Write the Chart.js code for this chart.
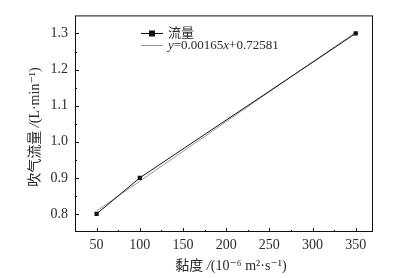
<!DOCTYPE html>
<html>
<head>
<meta charset="utf-8">
<script src="https://cdn.jsdelivr.net/npm/chart.js@4"></script>
<style>
  html, body { margin: 0; padding: 0; background: #fff; }
  #wrap { width: 407px; height: 278px; }
</style>
</head>
<body>
<div id="wrap"><canvas id="chart"></canvas></div>
<script>
// 数据
const viscosity = [50, 100, 350];
const flowRate = [0.8, 0.9, 1.3];
// 拟合直线 y=0.00165x+0.72581 的两个端点
const fitX = [50, 350];
const fitY = [0.8083, 1.3033];
const xTicks = [50, 100, 150, 200, 250, 300, 350];
const yTicks = [0.8, 0.9, 1.0, 1.1, 1.2, 1.3];
const xMinor = [75, 125, 175, 225, 275, 325];
const yMinor = [0.85, 0.95, 1.05, 1.15, 1.25];

const serif = "'Liberation Serif', 'DejaVu Serif', 'Noto Sans CJK SC', serif";
const textColor = '#2a2a2a';

// 画文字段（不同字体依次排列）
function drawRuns(ctx, runs, x, y) {
  let cx = x;
  runs.forEach(r => {
    ctx.font = r[1];
    ctx.fillText(r[0], cx, y);
    cx += ctx.measureText(r[0]).width;
  });
}
function runsWidth(ctx, runs) {
  let w = 0;
  runs.forEach(r => { ctx.font = r[1]; w += ctx.measureText(r[0]).width; });
  return w;
}

const framePlugin = {
  id: 'frame',
  afterDraw(chart) {
    const ctx = chart.ctx;
    const a = chart.chartArea;
    const xs = chart.scales.x, ys = chart.scales.y;
    ctx.save();
    ctx.strokeStyle = '#111';
    ctx.lineWidth = 1;
    ctx.strokeRect(a.left + 0.5, a.top + 0.5, a.right - a.left - 1, a.bottom - a.top - 1);

    // 刻度线（向内）
    ctx.beginPath();
    xTicks.forEach(v => {
      const px = Math.round(xs.getPixelForValue(v)) + 0.5;
      ctx.moveTo(px, a.bottom); ctx.lineTo(px, a.bottom - 4);
    });
    xMinor.forEach(v => {
      const px = Math.round(xs.getPixelForValue(v)) + 0.5;
      ctx.moveTo(px, a.bottom); ctx.lineTo(px, a.bottom - 2);
    });
    yTicks.forEach(v => {
      const py = Math.round(ys.getPixelForValue(v)) + 0.5;
      ctx.moveTo(a.left, py); ctx.lineTo(a.left + 4, py);
    });
    yMinor.forEach(v => {
      const py = Math.round(ys.getPixelForValue(v)) + 0.5;
      ctx.moveTo(a.left, py); ctx.lineTo(a.left + 2, py);
    });
    ctx.stroke();

    // 坐标轴标题
    ctx.fillStyle = textColor;
    ctx.textBaseline = 'middle';
    const f = '14px ' + serif;
    const fi = 'italic 14px ' + serif;
    const xRuns = [['黏度 ', f], ['/', fi], ['(10⁻⁶ m²·s⁻¹)', f]];
    drawRuns(ctx, xRuns, 231 - runsWidth(ctx, xRuns) / 2, 266);

    const yRuns = [['吹气流量 ', f], ['/', fi], ['(L·min⁻¹)', f]];
    ctx.translate(35, 127);
    ctx.rotate(-Math.PI / 2);
    drawRuns(ctx, yRuns, -runsWidth(ctx, yRuns) / 2, 0);
    ctx.restore();

    // 图例
    ctx.save();
    const lx0 = 141, lx1 = 163, tx = 168;
    let ly = 33.5;
    ctx.strokeStyle = '#111';
    ctx.beginPath(); ctx.moveTo(lx0, ly); ctx.lineTo(lx1, ly); ctx.stroke();
    ctx.fillStyle = '#111';
    ctx.fillRect(149, ly - 3, 6, 6);
    ctx.fillStyle = textColor;
    ctx.textBaseline = 'middle';
    drawRuns(ctx, [['流量', '13px ' + serif]], tx, ly);
    ly = 45.5;
    ctx.strokeStyle = '#999';
    ctx.beginPath(); ctx.moveTo(lx0, ly); ctx.lineTo(lx1, ly); ctx.stroke();
    const n = '13px ' + serif, ni = 'italic 13px ' + serif;
    drawRuns(ctx, [['y', ni], ['=0.00165', n], ['x', ni], ['+0.72581', n]], tx, ly);
    ctx.restore();
  }
};

new Chart(document.getElementById('chart'), {
  type: 'scatter',
  data: {
    datasets: [{
      label: '流量',
      data: viscosity.map((v, i) => ({ x: v, y: flowRate[i] })),
      showLine: true,
      borderColor: '#111',
      borderWidth: 1,
      backgroundColor: '#111',
      pointStyle: 'rect',
      pointRadius: 3,
      pointBorderWidth: 0,
      order: 1
    }, {
      label: 'fit',
      data: fitX.map((v, i) => ({ x: v, y: fitY[i] })),
      showLine: true,
      borderColor: '#999',
      borderWidth: 1,
      pointRadius: 0,
      order: 2
    }]
  },
  options: {
    responsive: true,
    maintainAspectRatio: false,
    animation: false,
    layout: { padding: { left: 0, right: 34, top: 10, bottom: 0 } },
    plugins: { legend: { display: false }, tooltip: { enabled: false } },
    scales: {
      x: {
        type: 'linear',
        min: 25,
        max: 370,
        grid: { display: false, drawTicks: false },
        border: { display: false },
        afterBuildTicks: s => { s.ticks = xTicks.map(v => ({ value: v })); },
        afterFit: s => { s.height = 46; },
        ticks: {
          padding: 5,
          color: textColor,
          font: { family: serif, size: 14 },
          maxRotation: 0
        }
      },
      y: {
        type: 'linear',
        min: 0.75,
        max: 1.35,
        grid: { display: false, drawTicks: false },
        border: { display: false },
        afterBuildTicks: s => { s.ticks = yTicks.map(v => ({ value: v })); },
        afterFit: s => { s.width = 75; },
        ticks: {
          padding: 7,
          color: textColor,
          font: { family: serif, size: 14 },
          callback: v => v.toFixed(1)
        }
      }
    }
  },
  plugins: [framePlugin]
});
</script>
</body>
</html>
